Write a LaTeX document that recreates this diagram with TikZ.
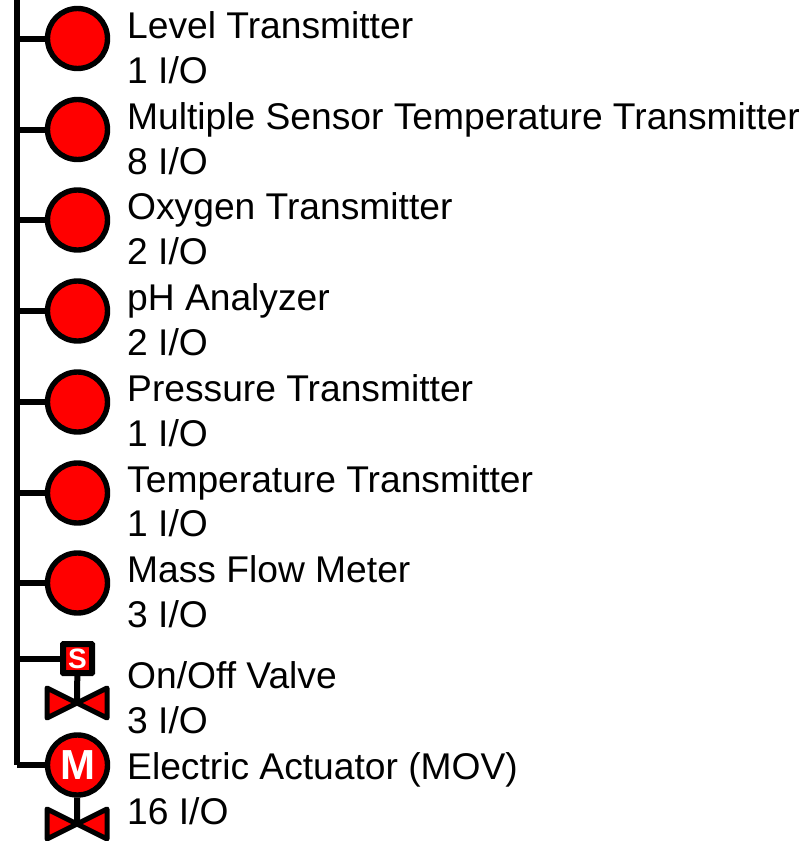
\documentclass[tikz,border=0pt]{standalone}
\usepackage{fontspec}
\setmainfont{Liberation Sans}
\tikzset{
    instr/.style={circle, draw=black, fill=red, line width=5.4pt, minimum size=60pt, inner sep=0pt},
    solbox/.style={rectangle, draw=black, fill=red, line width=6pt, minimum size=29pt, inner sep=0pt, rounded corners=0.5pt},
    lbl/.style={anchor=base west, inner sep=0pt, font=\fontsize{37.2}{45}\selectfont},
    wire/.style={line width=6pt},
    valve/.pic={
        \draw [fill=red, line width=5pt, line join=round] (0, 0) -- (-30, 15) -- (-30, -15) -- cycle;
        \draw [fill=red, line width=5pt, line join=round] (0, 0) -- (30, 15) -- (30, -15) -- cycle;
    }
}
\begin{document}
\begin{tikzpicture}[x=1pt, y=-1pt]

    \useasboundingbox (0, 0) rectangle (802, 841);

    \coordinate (top) at (17, -5);
    \coordinate (bot) at (17, 765);

    \node [instr] (a) at (77.5, 38.5) {};
    \node [instr] (b) at (77.5, 129.5) {};
    \node [instr] (c) at (77.5, 220) {};
    \node [instr] (d) at (77.5, 311) {};
    \node [instr] (e) at (77.5, 402) {};
    \node [instr] (f) at (77.5, 493) {};
    \node [instr] (g) at (77.5, 583) {};
    \node [solbox, text=white, font=\fontsize{28}{28}\selectfont\bfseries] (h) at (77.5, 658.5) {S};
    \node [instr, text=white, font=\fontsize{42}{42}\selectfont\bfseries] (i) at (77.5, 765) {M};
    \coordinate (hv) at (77, 703);
    \coordinate (iv) at (77, 824);

    \node [lbl] (a1) at (127, 38) {Level Transmitter};
    \node [lbl] (a2) at (127, 83) {1 I/O};
    \node [lbl] (b1) at (127, 129) {Multiple Sensor Temperature Transmitter};
    \node [lbl] (b2) at (127, 174) {8 I/O};
    \node [lbl] (c1) at (127, 219) {Oxygen Transmitter};
    \node [lbl] (c2) at (127, 264) {2 I/O};
    \node [lbl] (d1) at (127, 310) {pH Analyzer};
    \node [lbl] (d2) at (127, 355) {2 I/O};
    \node [lbl] (e1) at (127, 401) {Pressure Transmitter};
    \node [lbl] (e2) at (127, 446) {1 I/O};
    \node [lbl] (f1) at (127, 492) {Temperature Transmitter};
    \node [lbl] (f2) at (127, 536) {1 I/O};
    \node [lbl] (g1) at (127, 582) {Mass Flow Meter};
    \node [lbl] (g2) at (127, 627) {3 I/O};
    \node [lbl] (h1) at (127, 688) {On/Off Valve};
    \node [lbl] (h2) at (127, 733) {3 I/O};
    \node [lbl] (i1) at (127, 779) {Electric Actuator (MOV)};
    \node [lbl] (i2) at (127, 824) {16 I/O};

    \draw [wire] (top) to (bot);
    \foreach \n in {a, b, c, d, e, f, g, h, i}
        \draw [wire] (top |- \n) to (\n);

    \draw [wire] (h) to (hv);
    \draw [wire] (i) to (iv);
    \pic at (hv) {valve};
    \pic at (iv) {valve};

\end{tikzpicture}
\end{document}
